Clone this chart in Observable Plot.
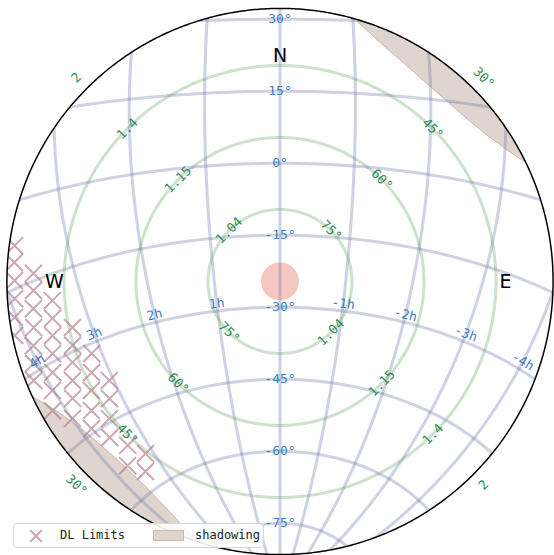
<!DOCTYPE html>
<html>
<head>
<meta charset="utf-8">
<script src="https://cdn.jsdelivr.net/npm/d3@7"></script>
<script src="https://cdn.jsdelivr.net/npm/@observablehq/plot@0.6"></script>
<style>
  html, body { margin: 0; padding: 0; background: #fff; }
  #chart { position: relative; width: 554px; height: 555px; }
  .legend {
    position: absolute; left: 13px; top: 523px; width: 249px; height: 23px;
    border: 1px solid #d6d6d6; border-radius: 4px; background: rgba(255,255,255,0.9);
    font: 12px "DejaVu Sans Mono", monospace; color: #222;
  }
  .legend > * { position: absolute; }
</style>
</head>
<body>
<div id="chart"></div>
<script>
// Site and sky grid (hour angle in hours, declination in degrees)
const latitude = -24.63;
const decLines = [-75, -60, -45, -30, -15, 0, 15, 30];
const haLines = [-6, -5, -4, -3, -2, -1, 0, 1, 2, 3, 4, 5, 6];
const haLabels = [-4, -3, -2, -1, 1, 2, 3, 4];
const haLabelDec = -28.5;

// Altitude circles (degrees) and the matching airmass labels
const altitudeCircles = [75, 60, 45, 30];
const airmassLabels = ["1.04", "1.15", "1.4", "2"];
const horizonLimit = 33.1; // lowest altitude shown

// Target position
const target = [{ha: 0, dec: -24.6}];

// Cardinal points (azimuth from north through east) and their altitude
const compass = [{label: "N", az: 0}, {label: "E", az: 90}, {label: "W", az: 270}];
const compassAlt = 43;

// Delay-line limits: [azimuth, altitude]
const dlLimits = [
  [277.7, 34.2], [274.1, 34.5], [270.2, 34.7], [266.3, 34.6], [262.3, 34.2], [258.5, 33.6],
  [271.9, 38.6], [267.9, 38.6], [263.7, 38.3], [259.4, 37.8], [255.4, 36.9], [251.6, 35.9], [248.1, 34.7],
  [265.2, 42.4], [260.8, 42.0], [256.6, 41.3], [252.4, 40.3], [248.2, 39.0], [244.4, 37.4], [240.4, 35.5],
  [257.5, 45.7], [252.9, 44.8], [248.7, 43.6], [244.5, 42.1], [240.6, 40.4], [236.6, 38.2],
  [249.1, 48.0], [244.2, 46.4], [240.0, 44.6], [235.6, 42.4], [232.0, 40.2],
  [239.9, 48.9], [235.5, 46.9], [231.2, 44.4], [227.5, 41.9],
  [222.9, 43.4], [219.6, 40.2],
  [218.0, 44.5], [215.3, 41.5]
];

// Telescope shadowing outlines: [azimuth, altitude]
const shadowNE = [
  [12, 28], [12, 31], [16, 33.2], [20, 35.0], [25, 36.7], [30, 37.8], [35, 38.5], [40, 38.8],
  [45, 38.7], [50, 38.2], [55, 37.1], [60, 35.3], [64, 33.2], [68, 31], [68, 28], [40, 28]
];
const shadowSW = [
  [194, 28], [194, 30], [198, 33.2], [203, 35.8], [209, 37.9], [215, 39.2], [221, 39.7],
  [227, 39.5], [233, 38.6], [238, 37.0], [242, 35.1], [245, 33.2], [248, 31], [248, 28], [221, 28]
];

const rad = Math.PI / 180;
// Horizontal (az, alt) -> map coordinates [lon = -hour angle in degrees, lat = declination]
function toSky(az, alt) {
  const A = az * rad, a = alt * rad, p = latitude * rad;
  const dec = Math.asin(Math.sin(p) * Math.sin(a) + Math.cos(p) * Math.cos(a) * Math.cos(A));
  const H = Math.atan2(-Math.sin(A) * Math.cos(a),
                       Math.cos(p) * Math.sin(a) - Math.sin(p) * Math.cos(a) * Math.cos(A));
  return [-H / rad, dec / rad];
}

// Zenith-centred azimuthal equidistant view, north up, east right
const projection = d3.geoAzimuthalEquidistant()
  .rotate([0, -latitude])
  .scale(275)
  .translate([279.5, 281]);

const zenith = [0, latitude];
const horizon = d3.geoCircle().center(zenith).radius(90 - horizonLimit).precision(0.5)();

const decFeatures = decLines.map(dec => ({
  type: "LineString",
  coordinates: d3.range(-180, 181, 2).map(lon => [lon, dec])
}));
const haFeatures = haLines.map(h => ({
  type: "LineString",
  coordinates: d3.range(-90, 91, 2).map(dec => [-15 * h, dec])
}));
const altFeatures = altitudeCircles.map(alt =>
  d3.geoCircle().center(zenith).radius(90 - alt).precision(0.5)());

function shadowPolygon(outline) {
  const ring = outline.map(([az, alt]) => toSky(az, alt));
  ring.push(ring[0]);
  const poly = {type: "Polygon", coordinates: [ring]};
  if (d3.geoArea(poly) > 2 * Math.PI) ring.reverse();
  return poly;
}
const shadows = [shadowPolygon(shadowNE), shadowPolygon(shadowSW)];

const dlPoints = dlLimits.map(([az, alt]) => toSky(az, alt));

function tangentAngle(lon, lat) {
  const [x0, y0] = projection([lon - 0.5, lat]);
  const [x1, y1] = projection([lon + 0.5, lat]);
  return Math.atan2(y1 - y0, x1 - x0) / rad;
}

const decText = decLines.map(dec => ({lon: 0, lat: dec, text: `${dec}°`}));
const haText = haLabels.map(h => ({
  lon: -15 * h, lat: haLabelDec, text: `${h}h`, angle: tangentAngle(-15 * h, haLabelDec)
}));
const altText = altitudeCircles.flatMap(alt => [45, 225].map(az => {
  const [lon, lat] = toSky(az, alt);
  return {lon, lat, text: `${alt}°`};
}));
const airmassText = altitudeCircles.flatMap((alt, i) => [315, 135].map(az => {
  const [lon, lat] = toSky(az, alt);
  return {lon, lat, text: airmassLabels[i]};
}));
const compassText = compass.map(d => {
  const [lon, lat] = toSky(d.az, compassAlt);
  return {lon, lat, text: d.label};
});

const gridColor = "#6a76a8";
const blue = "#3f7ec6";
const green = "#2e8b57";
const mono = "DejaVu Sans Mono";

// The first six marks are sky marks, clipped to the lowest-altitude circle below
const skyMarks = [
  Plot.geo(shadows, {fill: "#e0d5ce", stroke: "#c9b9ae", strokeWidth: 1}),
  Plot.dot(target, {x: d => -15 * d.ha, y: "dec", r: 19, fill: "#f4c8c1"}),
  Plot.geo(decFeatures, {stroke: gridColor, strokeOpacity: 0.33, strokeWidth: 3, fill: "none"}),
  Plot.geo(haFeatures, {stroke: gridColor, strokeOpacity: 0.33, strokeWidth: 3, fill: "none"}),
  Plot.geo(altFeatures, {stroke: "#5a9a5a", strokeOpacity: 0.3, strokeWidth: 3, fill: "none"}),
  Plot.dot(dlPoints, {x: d => d[0], y: d => d[1], symbol: "times", r: 7.8, stroke: "#b07a88",
    strokeOpacity: 0.65, strokeWidth: 2})
];

const out = Plot.plot({
  width: 554,
  height: 555,
  projection,
  style: {background: "#fff", fontFamily: mono},
  marks: [
    ...skyMarks,
    Plot.geo(horizon, {stroke: "#000", strokeWidth: 1.5, fill: "none"}),
    Plot.text(decText, {x: "lon", y: "lat", text: "text", fill: blue, fontSize: 13, fontFamily: mono}),
    Plot.text(haText, {x: "lon", y: "lat", text: "text", rotate: "angle", fill: blue, fontSize: 13, fontFamily: mono}),
    Plot.text(altText, {x: "lon", y: "lat", text: "text", rotate: 45, fill: green, fontSize: 13, fontFamily: mono}),
    Plot.text(airmassText, {x: "lon", y: "lat", text: "text", rotate: -45, fill: green, fontSize: 13, fontFamily: mono}),
    Plot.text(compassText, {x: "lon", y: "lat", text: "text", fill: "#000", fontSize: 19, fontFamily: "DejaVu Sans"})
  ]
});

const chart = document.getElementById("chart");
chart.appendChild(out);

// Clip path: the lowest-altitude circle
const SVGNS = "http://www.w3.org/2000/svg";
const root = out.tagName.toLowerCase() === "svg" ? out : out.querySelector("svg");
const defs = document.createElementNS(SVGNS, "defs");
const clip = document.createElementNS(SVGNS, "clipPath");
clip.setAttribute("id", "horizon-clip");
const clipShape = document.createElementNS(SVGNS, "path");
clipShape.setAttribute("d", d3.geoPath(projection)(horizon));
clip.appendChild(clipShape);
defs.appendChild(clip);
root.insertBefore(defs, root.firstChild);
const markGroups = Array.from(root.children).filter(el => el.tagName.toLowerCase() === "g");
markGroups.slice(0, skyMarks.length).forEach(g => g.setAttribute("clip-path", "url(#horizon-clip)"));

const legend = document.createElement("div");
legend.className = "legend";
legend.innerHTML = `
  <svg width="16" height="16" style="left:14px;top:4px"><path d="M2,2L14,14M2,14L14,2" stroke="#b07a88" stroke-opacity="0.65" stroke-width="2"/></svg>
  <span style="left:46px;top:4px">DL Limits</span>
  <span style="left:139px;top:6px;width:29px;height:9px;background:#e0d5ce;border:1px solid #c9b9ae"></span>
  <span style="left:181px;top:4px">shadowing</span>`;
chart.appendChild(legend);
</script>
</body>
</html>
